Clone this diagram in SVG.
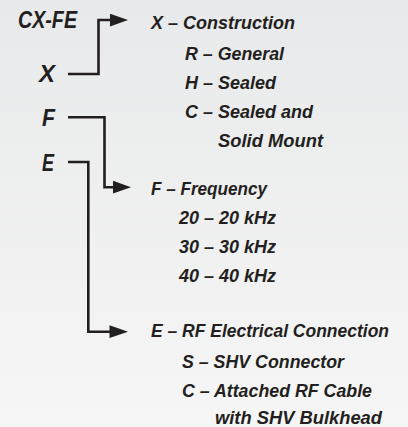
<svg xmlns="http://www.w3.org/2000/svg" width="408" height="427" viewBox="0 0 408 427">
  <defs>
    <linearGradient id="bg" x1="0" y1="0" x2="0" y2="1">
      <stop offset="0" stop-color="#e8e9ea"/>
      <stop offset="1" stop-color="#f6f6f6"/>
    </linearGradient>
    <style>
      text { font-family: "Liberation Sans", Arial, sans-serif; font-weight: bold; font-style: italic; fill: #231f20; }
      .code { font-size: 24px; }
      .opt { font-size: 19px; }
      .conn { fill: none; stroke: #231f20; stroke-width: 2.6; stroke-linejoin: miter; }
      .head { fill: #231f20; stroke: none; }
    </style>
  </defs>
  <rect x="0" y="0" width="408" height="427" fill="url(#bg)"/>

  <g id="code-labels">
    <g id="node-cxfe"><text class="code" x="18" y="28" textLength="59" lengthAdjust="spacingAndGlyphs">CX-FE</text></g>
    <g id="node-x"><text class="code" x="39" y="82" textLength="16" lengthAdjust="spacingAndGlyphs">X</text></g>
    <g id="node-f"><text class="code" x="42" y="126" textLength="13" lengthAdjust="spacingAndGlyphs">F</text></g>
    <g id="node-e"><text class="code" x="42" y="171" textLength="12" lengthAdjust="spacingAndGlyphs">E</text></g>
  </g>

  <g id="connectors">
    <path class="conn" d="M68,74 H98.5 V20 H112"/>
    <polygon class="head" points="110,13.8 128,20 110,26.4"/>
    <path class="conn" d="M68,117.3 H104.5 V187.3 H115"/>
    <polygon class="head" points="113,180.8 131,187.3 113,193.6"/>
    <path class="conn" d="M68,162 H88.3 V331.7 H112"/>
    <polygon class="head" points="109.5,325.2 128,331.7 109.5,338"/>
  </g>

  <g id="node-construction">
    <text class="opt" x="151" y="29" textLength="144" lengthAdjust="spacingAndGlyphs">X – Construction</text>
    <text class="opt" x="185" y="60" textLength="99" lengthAdjust="spacingAndGlyphs">R – General</text>
    <text class="opt" x="185" y="89" textLength="91" lengthAdjust="spacingAndGlyphs">H – Sealed</text>
    <text class="opt" x="185" y="118" textLength="128" lengthAdjust="spacingAndGlyphs">C – Sealed and</text>
    <text class="opt" x="218" y="147" textLength="105" lengthAdjust="spacingAndGlyphs">Solid Mount</text>
  </g>

  <g id="node-frequency">
    <text class="opt" x="151" y="195" textLength="116" lengthAdjust="spacingAndGlyphs">F – Frequency</text>
    <text class="opt" x="179" y="224" textLength="97" lengthAdjust="spacingAndGlyphs">20 – 20 kHz</text>
    <text class="opt" x="179" y="253" textLength="97" lengthAdjust="spacingAndGlyphs">30 – 30 kHz</text>
    <text class="opt" x="179" y="282" textLength="97" lengthAdjust="spacingAndGlyphs">40 – 40 kHz</text>
  </g>

  <g id="node-connection">
    <text class="opt" x="151" y="337" textLength="238" lengthAdjust="spacingAndGlyphs">E – RF Electrical Connection</text>
    <text class="opt" x="182" y="368" textLength="162" lengthAdjust="spacingAndGlyphs">S – SHV Connector</text>
    <text class="opt" x="182" y="397" textLength="190" lengthAdjust="spacingAndGlyphs">C – Attached RF Cable</text>
    <text class="opt" x="215" y="424" textLength="167" lengthAdjust="spacingAndGlyphs">with SHV Bulkhead</text>
  </g>
</svg>
